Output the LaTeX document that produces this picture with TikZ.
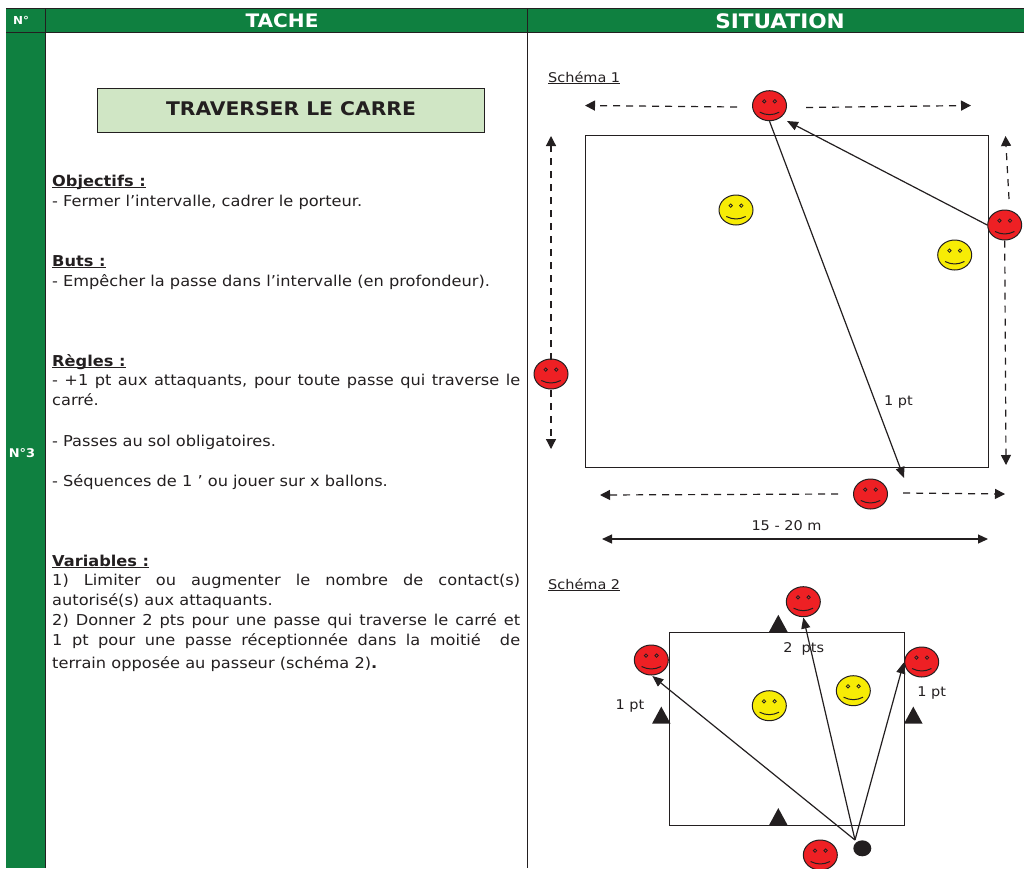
\documentclass[tikz,border=0pt]{standalone}
\usepackage{fontspec}
\setmainfont[FakeStretch=1.08]{DejaVu Sans}
\usetikzlibrary{arrows.meta,shapes.geometric}
\definecolor{vert}{HTML}{0F8040}
\definecolor{vertclair}{HTML}{D0E6C5}
\definecolor{rouge}{HTML}{EE2024}
\definecolor{jaune}{HTML}{F7EC05}
\definecolor{encre}{HTML}{231F20}
\newcommand{\souligne}[1]{\underline{\smash{#1}}}
\tikzset{
  joueur/.style={ellipse,draw=encre,line width=1pt,fill=#1,minimum width=34pt,minimum height=30pt,inner sep=0pt,
    path picture={
      \draw[encre,line width=.8pt] ([shift={(-5.3,-4.4)}]path picture bounding box.center) circle (1.7);
      \draw[encre,line width=.8pt] ([shift={(5.3,-4.4)}]path picture bounding box.center) circle (1.7);
      \draw[encre,line width=1pt] ([shift={(-9.7,6.5)}]path picture bounding box.center) .. controls ([shift={(-3,9.8)}]path picture bounding box.center) and ([shift={(3,9.8)}]path picture bounding box.center) .. ([shift={(9.7,6.5)}]path picture bounding box.center);
    }},
  plot/.style={isosceles triangle,isosceles triangle stretches,shape border rotate=90,fill=encre,draw=none,minimum width=18.5pt,minimum height=17pt,inner sep=0pt,anchor=lower side},
  passe/.style={encre,line width=1.2pt,-{Triangle[length=11pt,width=9pt]}},
  course/.style={encre,line width=1.2pt,dash pattern=on 7pt off 6pt,-{Triangle[length=10pt,width=10pt]}},
  texte/.style={anchor=base west,inner sep=0pt,text=encre,font=\fontsize{15}{20}\selectfont},
  bloc/.style={anchor=north west,inner sep=0pt,text=encre,text width=468pt,align=justify,font=\fontsize{15}{20}\selectfont},
  legende/.style={anchor=base,inner sep=0pt,text=encre,font=\fontsize{13.4}{16}\selectfont},
  entete/.style={text=white,font=\bfseries\fontsize{18.6}{20}\selectfont}
}
\begin{document}
\begin{tikzpicture}[x=1pt,y=-1pt]
  \useasboundingbox (0,0) rectangle (1024,868);
  % tableau
  \fill[vert] (6,8) rectangle (1024,32);
  \fill[vert] (6,32) rectangle (45,868);
  \draw[encre,line width=1pt] (6,8)--(1024,8) (6,32.5)--(1024,32.5);
  \draw[encre,line width=1pt] (45,8)--(45,868) (527,8)--(527,868);
  \node[entete] (num) at (21,20) {\fontsize{11}{12}\selectfont N°};
  \node[entete] (tache) at (282,21) {TACHE};
  \node[entete] (situation) at (780,21) {\fontsize{20}{20}\selectfont SITUATION};
  \node[text=white,font=\bfseries\fontsize{12}{14}\selectfont] (numero) at (22,453) {N°3};
  % colonne tache
  \node[draw=encre,line width=1pt,fill=vertclair,minimum width=387pt,minimum height=44pt,text=encre,font=\bfseries\fontsize{18.8}{22}\selectfont] (titre) at (291,110) {\raisebox{2pt}{TRAVERSER LE CARRE}};
  \node[texte] (objectifs) at (52,186.2) {\textbf{\souligne{Objectifs :}}};
  \node[texte] (objectifs1) at (52,206.2) {- Fermer l’intervalle, cadrer le porteur.};
  \node[texte] (buts) at (52,266.2) {\textbf{\souligne{Buts :}}};
  \node[texte] (buts1) at (52,286.2) {- Empêcher la passe dans l’intervalle (en profondeur).};
  \node[texte] (regles) at (52,366.2) {\textbf{\souligne{Règles :}}};
  \node[bloc] (regles1) at (52,371.2) {\strut - +1 pt aux attaquants, pour toute passe qui traverse le\linebreak carré.};
  \node[texte] (regles2) at (52,446.2) {- Passes au sol obligatoires.};
  \node[texte] (regles3) at (52,486.2) {- Séquences de 1 ’ ou jouer sur x ballons.};
  \node[texte] (variables) at (52,566.2) {\textbf{\souligne{Variables :}}};
  \node[bloc] (variables1) at (52,571.2) {\strut 1) Limiter ou augmenter le nombre de contact(s)\linebreak autorisé(s) aux attaquants.\\
    2) Donner 2 pts pour une passe qui traverse le carré et\linebreak 1 pt pour une passe réceptionnée dans la moitié \ de\parfillskip=0pt\par};
  \node[texte] (variables2) at (52,668.5) {terrain opposée au passeur (schéma 2)\textbf{.}};
  % schema 1
  \node[legende,anchor=base west] (schema1) at (548,82) {\souligne{Schéma 1}};
  \node[draw=encre,line width=1pt,minimum width=403pt,minimum height=331.5pt,inner sep=0pt] (carre1) at (786.5,301.25) {};
  \node[joueur=jaune] (jaune1) at (736,210) {};
  \node[joueur=jaune] (jaune2) at (954.7,255) {};
  \node[joueur=rouge] (haut) at (769.5,105.7) {};
  \node[joueur=rouge] (droite) at (1004.7,225) {};
  \node[joueur=rouge] (gauche) at (551,374) {};
  \node[joueur=rouge] (bas) at (870.5,494) {};
  \coordinate (hautg) at (585,105.5);
  \coordinate (hautgd) at (737,107);
  \coordinate (hautd) at (971,105.5);
  \coordinate (hautdd) at (806,107.5);
  \coordinate (gaucheh) at (551,136);
  \coordinate (gauchehd) at (551,360);
  \coordinate (gaucheb) at (551,449);
  \coordinate (gauchebd) at (551,390);
  \coordinate (droiteh) at (1005.5,136);
  \coordinate (droitehd) at (1009,199);
  \coordinate (droiteb) at (1006,465);
  \coordinate (basg) at (600,495);
  \coordinate (basgd) at (838,494);
  \coordinate (basd) at (1005,494);
  \coordinate (basdd) at (903,493);
  \coordinate (arrivee1) at (787,121);
  \coordinate (arrivee2) at (904,478);
  \draw[course] (hautgd)--(hautg);
  \draw[course] (hautdd)--(hautd);
  \draw[course] (gauchehd)--(gaucheh);
  \draw[course] (gauchebd)--(gaucheb);
  \draw[course] (droitehd)--(droiteh);
  \draw[course] (droite.south)--(droiteb);
  \draw[course] (basgd)--(basg);
  \draw[course] (basdd)--(basd);
  \draw[passe] (droite.west)--(arrivee1);
  \draw[passe] (haut.south)--(arrivee2);
  \node[legende] (point1) at (898.5,405.5) {1 pt};
  \node[legende] (distance) at (786.5,530) {15 - 20 m};
  \coordinate (cotea) at (602,539);
  \coordinate (coteb) at (988,539);
  \draw[encre,line width=1.2pt,{Triangle[length=10pt,width=9pt]}-{Triangle[length=10pt,width=9pt]}] (cotea)--(coteb);
  % schema 2
  \node[legende,anchor=base west] (schema2) at (548,589) {\souligne{Schéma 2}};
  \node[draw=encre,line width=1pt,minimum width=235pt,minimum height=193.3pt,inner sep=0pt] (carre2) at (786.8,728.7) {};
  \node[plot] (plot1) at (778.3,632) {};
  \node[plot] (plot2) at (778.3,825.3) {};
  \node[plot] (plot3) at (661.3,723.8) {};
  \node[plot] (plot4) at (913.3,723.8) {};
  \node[joueur=rouge] (haut2) at (803.3,601.7) {};
  \node[joueur=rouge] (gauche2) at (651.3,660) {};
  \node[joueur=rouge] (droite2) at (921.7,662) {};
  \node[joueur=rouge] (bas2) at (820.3,855) {};
  \node[joueur=jaune] (jaune3) at (769.3,705.7) {};
  \node[joueur=jaune] (jaune4) at (853.3,690.7) {};
  \node[ellipse,fill=encre,minimum width=18pt,minimum height=16pt,inner sep=0pt] (ballon) at (862.3,848.3) {};
  \coordinate (depart) at (855,840);
  \coordinate (cible1) at (803.3,617.5);
  \coordinate (cible2) at (652.3,676);
  \coordinate (cible3) at (903.7,662.5);
  \draw[passe] (depart)--(cible1);
  \draw[passe] (depart)--(cible2);
  \draw[passe] (depart)--(cible3);
  \node[legende] (pts2) at (803.7,652) {2 \ pts};
  \node[legende] (pt3) at (630,709) {1 pt};
  \node[legende] (pt4) at (931.7,696) {1 pt};
\end{tikzpicture}
\end{document}
